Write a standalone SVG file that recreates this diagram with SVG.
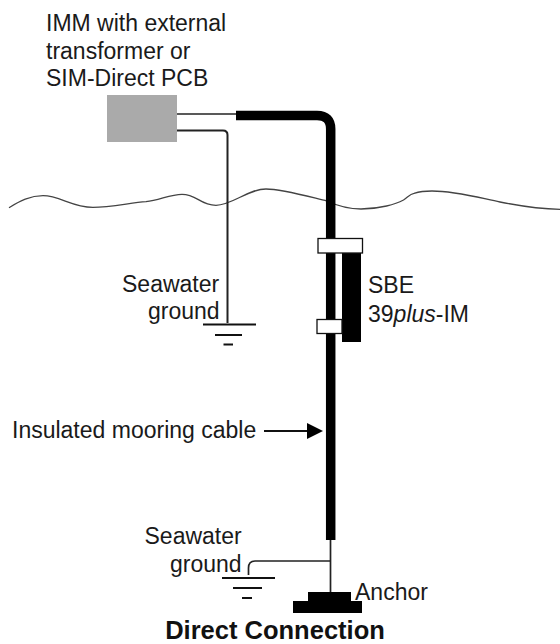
<svg xmlns="http://www.w3.org/2000/svg" width="560" height="644" viewBox="0 0 560 644">
<style>
text{font-family:"Liberation Sans",Arial,sans-serif;font-size:23px;fill:#1a1a1a}
.l{fill:none;stroke:#222;stroke-width:1.7}
.g{fill:none;stroke:#222;stroke-width:2}
</style>
<rect width="560" height="644" fill="#fff"/>
<g id="connectors">
<path d="M9 207.700C20 201 30 195.700 43 195.700C60 195.700 72 207.300 93 207.300C110 207.300 130 203 146 201.700C160 200 170 194.300 182 194.300C197 194.300 200 205.300 216 205.300C232 205.300 248 189 266 189C282 189 310 197 327 201C340 207 350 209 361 209C380 209 396 204 403.500 200C408 197 410 194 414 193.300C420 191.500 426 191 432 191C455 191 480 198 500 202C520 206 540 209 560 209.300" fill="none" stroke="#444" stroke-width="1.300"/>
<path class="l" d="M177 114H237"/>
<path class="g" d="M177 130.500H223Q227.500 130.500 227.500 135V323"/>
<path d="M236 115.500H317Q330.700 115.500 330.700 129V540" fill="none" stroke="#000" stroke-width="9.500"/>
<path class="l" d="M330.500 540V593"/>
<path class="l" d="M248.500 575V568Q248.500 561 255 561H330"/>
<path d="M264 431H310" fill="none" stroke="#111" stroke-width="2"/>
<path d="M307 423L323 431L307 439Z" fill="#000"/>
</g>
<g id="imm"><rect x="107" y="95" width="70" height="47" fill="#aaa"/>
<text x="46" y="31">IMM with external</text><text x="46" y="59">transformer or</text><text x="46" y="86">SIM-Direct PCB</text></g>
<g id="sbe">
<rect x="342" y="253" width="19" height="89" fill="#000"/>
<rect x="318" y="238.500" width="44.500" height="14.500" fill="#fff" stroke="#111" stroke-width="1.300"/>
<rect x="317" y="319.500" width="25" height="14" fill="#fff" stroke="#111" stroke-width="1.300"/>
<text x="368" y="293">SBE</text><text x="368" y="322">39<tspan font-style="italic">plus</tspan>-IM</text></g>
<g id="ground1"><path d="M203 324.500H256M215 335H242M223.500 344.500H233" stroke="#111" stroke-width="2" fill="none"/>
<text x="122" y="292">Seawater</text><text x="148" y="319">ground</text></g>
<g id="ground2"><path d="M222 578H275M233 588H262M242 598H252" stroke="#111" stroke-width="2" fill="none"/>
<text x="144.500" y="544">Seawater</text><text x="170" y="572">ground</text></g>
<g id="anchor"><path d="M308 592H351V601H362V613H293V601H308Z" fill="#000"/>
<text x="355" y="600">Anchor</text></g>
<g id="cable"><text x="12" y="438">Insulated mooring cable</text></g>
<text x="275" y="638.500" text-anchor="middle" style="font-weight:bold;font-size:25.500px;fill:#111">Direct Connection</text>
</svg>
